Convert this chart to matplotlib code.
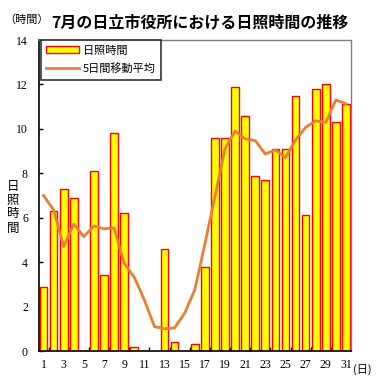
import matplotlib
matplotlib.use("Agg")
import matplotlib.pyplot as plt
from matplotlib.patches import Patch
from matplotlib.lines import Line2D

days = list(range(1, 32))
sunshine = [2.9, 6.3, 7.3, 6.9, 0.0, 8.1, 3.4, 9.8, 6.2, 0.2,
            0.0, 0.0, 4.6, 0.4, 0.0, 0.3, 3.8, 9.6, 9.6, 11.9,
            10.6, 7.9, 7.7, 9.1, 9.1, 11.5, 6.1, 11.8, 12.0, 10.3, 11.1]
moving_avg = [7.0, 6.35, 4.7, 5.72, 5.15, 5.63, 5.5, 5.54, 3.95, 3.32,
              2.3, 1.1, 1.0, 1.04, 1.7, 2.75, 4.8, 6.95, 9.1, 9.9,
              9.55, 9.47, 8.87, 9.05, 8.71, 9.5, 10.07, 10.36, 10.29, 11.3, 11.13]
xtick_labels = [str(d) for d in range(1, 32, 2)]
ylabel_chars = ["日", "照", "時", "間"]

jp = ["Noto Sans CJK JP", "DejaVu Sans"]
serif = "Liberation Serif"
line_color = "#ED7D31"

fig = plt.figure(figsize=(3.88, 3.89), dpi=100)
ax = fig.add_axes([39 / 388, 38 / 389, 312 / 388, 311 / 389])

ax.bar(days, sunshine, width=0.76, color="#FFFF00", edgecolor="#FF0000",
       linewidth=1.0, zorder=2)
ax.plot(days, moving_avg, color=line_color, linewidth=2.0, zorder=3)

ax.set_xlim(0.55, 31.5)
ax.set_ylim(0, 14)
ax.set_yticks(range(0, 15, 2))
ax.set_xticks(range(1, 32, 2))
ax.set_xticklabels(xtick_labels)
ax.set_xticks([d + 0.5 for d in range(1, 31, 2)], minor=True)
ax.tick_params(axis="x", which="major", length=0, pad=6)
ax.tick_params(axis="x", which="minor", direction="in", length=3, width=1)
ax.tick_params(axis="y", direction="in", length=3, width=1, pad=8)
for lbl in ax.get_xticklabels() + ax.get_yticklabels():
    lbl.set_fontfamily(serif)
    lbl.set_fontsize(8.5)

for side in ("left", "bottom"):
    ax.spines[side].set_color("black")
    ax.spines[side].set_linewidth(1.2)
for side in ("top", "right"):
    ax.spines[side].set_color("#808080")
    ax.spines[side].set_linewidth(1.0)

handles = [Patch(facecolor="#FFFF00", edgecolor="#FF0000", linewidth=1.0),
           Line2D([0], [0], color=line_color, linewidth=2.0)]
leg = ax.legend(handles, ["日照時間", "5日間移動平均"], loc="upper left",
                bbox_to_anchor=(0.005, 1.0), prop={"family": jp, "size": 8},
                frameon=True, fancybox=False, edgecolor="black",
                handlelength=3.0, handleheight=0.6, borderpad=0.5,
                labelspacing=0.7, handletextpad=0.3, borderaxespad=0.0)
leg.get_frame().set_linewidth(1.2)

fig.text(200 / 388, 1 - 22 / 389, "7月の日立市役所における日照時間の推移",
         ha="center", va="center", fontsize=11.5, fontweight="bold", family=jp)
fig.text(4 / 388, 1 - 20 / 389, "（時間）", ha="left", va="center",
         fontsize=8, family=jp)
for i, ch in enumerate(ylabel_chars):
    fig.text(13 / 388, 1 - (186 + i * 14) / 389, ch, ha="center",
             va="center", fontsize=9, family=jp)
fig.text(353 / 388, 1 - 370 / 389, "(日)", ha="left", va="center",
         fontsize=8, family=jp)

fig.savefig("out.png", dpi=100)
